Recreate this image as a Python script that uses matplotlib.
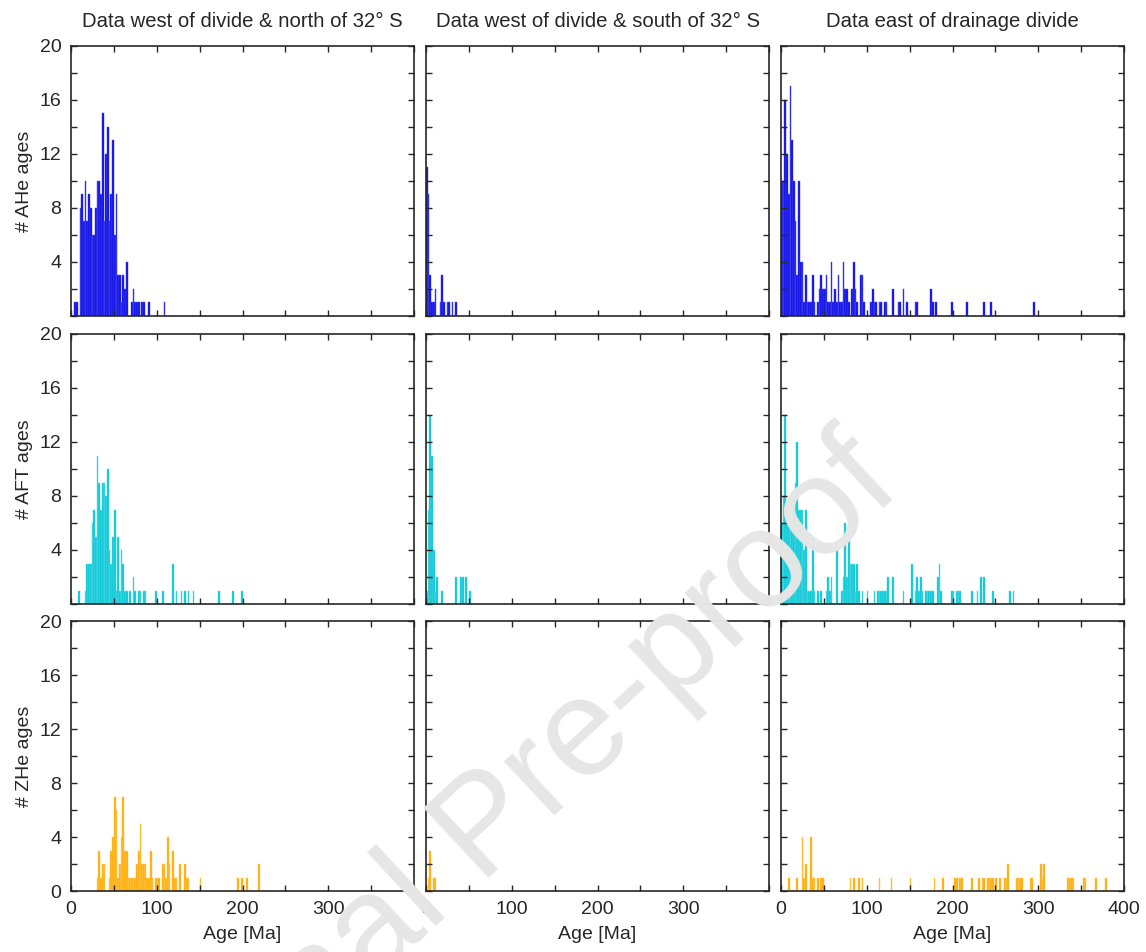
import matplotlib
matplotlib.use('Agg')
import matplotlib.pyplot as plt
import numpy as np

plt.rcParams['font.family'] = ['Liberation Sans', 'DejaVu Sans']

# ---------------- data (bin left edge in Ma, 2 Ma bins; counts) ----------------
col_titles = ['Data west of divide & north of 32° S',
              'Data west of divide & south of 32° S',
              'Data east of drainage divide']
row_labels = ['# AHe ages', '# AFT ages', '# ZHe ages']

ahe_wn_ages = [4, 6, 10, 12, 14, 16, 18, 20, 22, 24, 26, 28, 30, 32, 34, 36, 38, 40, 42, 44,
               46, 48, 50, 52, 54, 56, 58, 60, 62, 64, 70, 72, 74, 76, 78, 82, 84, 90, 108]
ahe_wn_counts = [1, 1, 8, 9, 7, 10, 7, 9, 8, 6, 6, 8, 10, 10, 9, 15, 7, 12, 14, 7,
                 9, 13, 6, 9, 3, 3, 1, 3, 2, 4, 1, 2, 1, 1, 1, 1, 1, 1, 1]

ahe_ws_ages = [0, 2, 4, 6, 8, 10, 16, 18, 20, 24, 26, 30, 34]
ahe_ws_counts = [11, 9, 3, 1, 1, 2, 1, 3, 1, 1, 1, 1, 1]

ahe_e_ages = [0, 2, 4, 6, 8, 10, 12, 14, 16, 18, 20, 22, 24, 26, 28, 30, 32, 34, 36, 38,
              42, 44, 46, 48, 50, 52, 54, 56, 58, 60, 62, 64, 66, 68, 70, 72, 74, 76, 78,
              82, 84, 86, 88, 92, 94, 96, 104, 106, 108, 110, 114, 116, 120, 122, 130,
              136, 138, 142, 146, 156, 158, 174, 176, 180, 198, 216, 236, 244, 294]
ahe_e_counts = [10, 10, 16, 12, 9, 17, 13, 10, 7, 3, 10, 4, 4, 1, 3, 1, 1, 1, 3, 1,
                1, 2, 3, 2, 2, 3, 1, 1, 4, 1, 2, 1, 3, 1, 1, 4, 2, 2, 1,
                2, 4, 2, 1, 3, 3, 1, 1, 2, 1, 1, 1, 1, 1, 1, 2,
                1, 1, 2, 1, 1, 1, 2, 1, 1, 1, 1, 1, 1, 1]

aft_wn_ages = [8, 16, 18, 20, 22, 24, 26, 28, 30, 32, 34, 36, 38, 40, 42, 44, 46, 48, 50, 52,
               54, 56, 58, 60, 62, 64, 68, 72, 74, 78, 80, 84, 86, 98, 106, 118, 122, 128,
               132, 136, 142, 172, 188, 198]
aft_wn_counts = [1, 1, 3, 3, 3, 6, 7, 5, 11, 9, 7, 9, 9, 8, 10, 4, 3, 5, 7, 1,
                 5, 1, 4, 3, 1, 1, 1, 2, 1, 1, 1, 1, 1, 1, 1, 3, 1, 1,
                 1, 1, 1, 1, 1, 1]

aft_ws_ages = [0, 2, 4, 6, 8, 10, 12, 18, 34, 40, 42, 46, 50]
aft_ws_counts = [1, 7, 14, 11, 4, 1, 2, 1, 2, 2, 2, 2, 1]

aft_e_ages = [0, 2, 4, 6, 8, 10, 12, 14, 16, 18, 20, 22, 24, 26, 28, 30, 32, 34, 36, 38,
              42, 46, 52, 54, 56, 58, 64, 70, 72, 74, 76, 78, 80, 82, 84, 86, 88, 90, 94,
              100, 108, 112, 114, 116, 118, 120, 122, 124, 130, 142, 152, 156, 158, 160,
              162, 164, 168, 170, 172, 174, 176, 182, 184, 186, 198, 200, 204, 206, 208,
              222, 228, 232, 236, 246, 266, 270]
aft_e_counts = [6, 8, 14, 6, 6, 6, 6, 8, 9, 12, 7, 7, 7, 4, 7, 1, 1, 1, 5, 1,
                1, 1, 1, 2, 1, 2, 4, 1, 2, 6, 2, 5, 3, 3, 3, 1, 3, 1, 1,
                1, 1, 1, 1, 1, 1, 1, 1, 2, 2, 1, 3, 1, 2, 1,
                2, 1, 1, 1, 1, 1, 1, 2, 3, 1, 1, 1, 1, 1, 1,
                1, 1, 2, 2, 1, 1, 1]

zhe_wn_ages = [30, 32, 34, 36, 38, 44, 46, 48, 50, 52, 54, 56, 58, 60, 62, 64, 66, 68, 70, 72,
               74, 76, 78, 80, 82, 84, 86, 88, 90, 92, 94, 98, 100, 102, 106, 108, 110, 112,
               114, 118, 120, 122, 126, 132, 134, 136, 150, 194, 198, 204, 218]
zhe_wn_counts = [1, 3, 1, 2, 2, 1, 3, 4, 7, 6, 1, 2, 4, 7, 3, 3, 1, 1, 1, 1,
                 1, 2, 3, 5, 2, 2, 2, 1, 1, 3, 1, 1, 1, 1, 2, 2, 1, 4,
                 2, 3, 1, 1, 2, 2, 1, 1, 1, 1, 1, 1, 2]

zhe_ws_ages = [2, 4, 8, 10]
zhe_ws_counts = [1, 3, 1, 1]

zhe_e_ages = [8, 18, 24, 26, 28, 34, 36, 38, 42, 46, 48, 80, 84, 90, 94, 114, 128, 150, 178,
              188, 202, 204, 208, 210, 222, 230, 234, 236, 240, 242, 244, 246, 250, 254,
              260, 262, 264, 274, 276, 278, 280, 290, 292, 302, 304, 306, 334, 336, 338,
              340, 352, 354, 366, 378]
zhe_e_counts = [1, 1, 4, 1, 2, 4, 1, 1, 1, 1, 1, 1, 1, 1, 1, 1, 1, 1, 1,
                1, 1, 1, 1, 1, 1, 1, 1, 1, 1, 1, 1, 1, 1, 1,
                1, 1, 2, 1, 1, 1, 1, 1, 1, 2, 1, 2, 1, 1, 1,
                1, 1, 1, 1, 1]

bin_width = 2
panels = [
    [(ahe_wn_ages, ahe_wn_counts), (ahe_ws_ages, ahe_ws_counts), (ahe_e_ages, ahe_e_counts)],
    [(aft_wn_ages, aft_wn_counts), (aft_ws_ages, aft_ws_counts), (aft_e_ages, aft_e_counts)],
    [(zhe_wn_ages, zhe_wn_counts), (zhe_ws_ages, zhe_ws_counts), (zhe_e_ages, zhe_e_counts)],
]
row_colors = ['#0505E6', '#00C6D4', '#FFAA00']
edge_colors = ['#5A5AF0', '#66DDE6', '#FFCC66']

# ---------------- figure ----------------
FW, FH = 1146, 952
fig = plt.figure(figsize=(FW / 100, FH / 100), dpi=100)

lefts = [71, 426, 781]
tops = [46, 334, 621]
W, H = 343, 270
dark = '#262626'

for r in range(3):
    for c in range(3):
        ax = fig.add_axes([lefts[c] / FW, 1 - (tops[r] + H) / FH, W / FW, H / FH])
        ages, counts = panels[r][c]
        ax.bar(ages, counts, width=bin_width, align='edge', color=row_colors[r],
               edgecolor=edge_colors[r], linewidth=0.35)
        ax.set_xlim(0, 400)
        ax.set_ylim(0, 20)
        xt = np.arange(0, 401, 50)
        ax.set_xticks(xt)
        if r == 2:
            ax.set_xticklabels([str(v) if (v % 100 == 0 and (v < 400 or c == 2)) else ''
                                for v in xt])
            ax.set_xlabel('Age [Ma]', fontsize=14, labelpad=6, color=dark)
        else:
            ax.set_xticklabels([''] * len(xt))
        yt = np.arange(0, 21, 2)
        ax.set_yticks(yt)
        if c == 0:
            ax.set_yticklabels([str(v) if (v % 4 == 0 and (v > 0 or r == 2)) else ''
                                for v in yt])
            ax.set_ylabel(row_labels[r], fontsize=14, color=dark, labelpad=5)
        else:
            ax.set_yticklabels([''] * len(yt))
        if r == 0:
            ax.set_title(col_titles[c], fontsize=14.6, pad=14, color=dark)
        ax.tick_params(axis='x', pad=7)
        ax.tick_params(direction='in', top=True, right=True, length=4.5, width=1.0,
                       labelsize=14, colors=dark)
        ax.tick_params(axis='y', pad=7)
        for s in ax.spines.values():
            s.set_linewidth(1.2)
            s.set_color(dark)

# watermark
fig.text(487 / FW, 1 - 830 / FH, 'Journal Pre-proof', rotation=43, fontsize=100,
         color='#E6E6E6', ha='center', va='center', rotation_mode='anchor', zorder=10)

fig.savefig('out.png', dpi=100)
